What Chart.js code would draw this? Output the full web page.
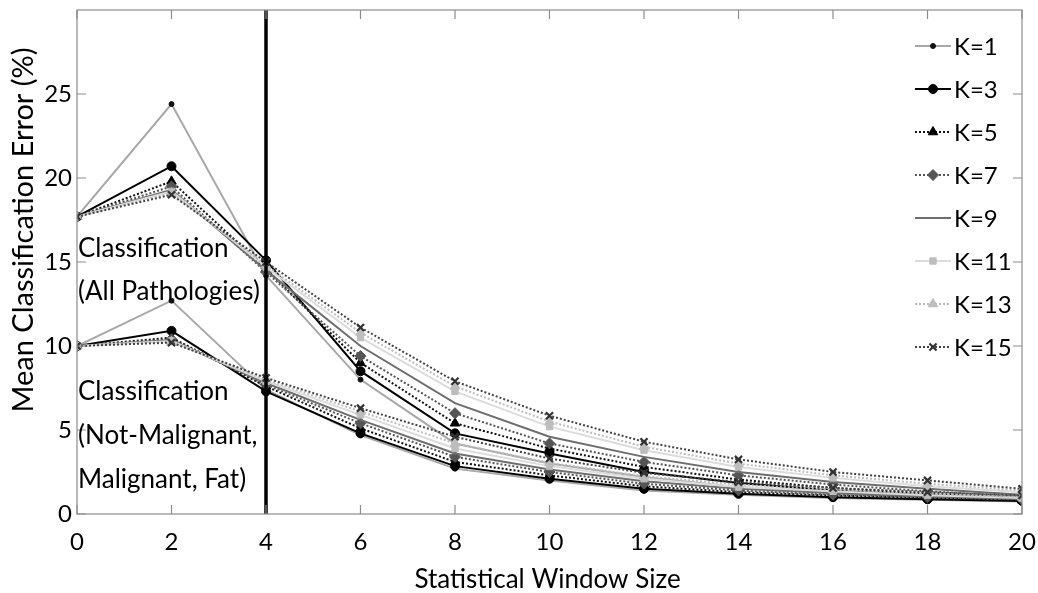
<!DOCTYPE html>
<html>
<head>
<meta charset="utf-8">
<script src="https://cdn.jsdelivr.net/npm/chart.js@4.4.1/dist/chart.umd.min.js"></script>
<style>
html,body{margin:0;padding:0;background:#fff;}
#wrap{width:1038px;height:593px;}
</style>
</head>
<body>
<div id="wrap"><canvas id="c" width="1038" height="593"></canvas></div>
<script>
const windowSizes = [0, 2, 4, 6, 8, 10, 12, 14, 16, 18, 20];
const kLabels = ['K=1', 'K=3', 'K=5', 'K=7', 'K=9', 'K=11', 'K=13', 'K=15'];

// Classification (All Pathologies)
const allK1  = [17.7, 24.4, 14.2, 8.0, 4.2, 3.0, 2.2, 1.6, 1.25, 1.0, 0.85];
const allK3  = [17.7, 20.7, 15.1, 8.5, 4.8, 3.6, 2.5, 1.85, 1.4, 1.1, 0.9];
const allK5  = [17.7, 19.8, 14.6, 9.0, 5.4, 3.9, 2.8, 2.05, 1.55, 1.2, 0.95];
const allK7  = [17.7, 19.5, 14.4, 9.4, 6.0, 4.2, 3.1, 2.3, 1.75, 1.35, 1.05];
const allK9  = [17.7, 19.3, 14.5, 10.0, 6.6, 4.6, 3.4, 2.5, 1.9, 1.5, 1.15];
const allK11 = [17.7, 19.2, 14.7, 10.5, 7.3, 5.2, 3.8, 2.8, 2.15, 1.65, 1.3];
const allK13 = [17.7, 19.1, 14.8, 10.8, 7.6, 5.5, 4.0, 3.0, 2.3, 1.8, 1.4];
const allK15 = [17.7, 19.0, 15.0, 11.1, 7.9, 5.85, 4.3, 3.25, 2.5, 2.0, 1.5];

// Classification (Not-Malignant, Malignant, Fat)
const nmfK1  = [10.0, 12.7, 7.4, 4.7, 2.7, 2.0, 1.4, 1.15, 0.95, 0.85, 0.75];
const nmfK3  = [10.0, 10.9, 7.3, 4.8, 2.85, 2.1, 1.5, 1.2, 1.0, 0.88, 0.78];
const nmfK5  = [10.0, 10.5, 7.6, 5.1, 3.1, 2.3, 1.65, 1.3, 1.1, 0.95, 0.82];
const nmfK7  = [10.0, 10.4, 7.7, 5.4, 3.4, 2.5, 1.8, 1.4, 1.15, 1.0, 0.86];
const nmfK9  = [10.0, 10.35, 7.8, 5.6, 3.6, 2.65, 1.95, 1.5, 1.25, 1.05, 0.9];
const nmfK11 = [10.0, 10.3, 7.9, 5.9, 3.9, 2.85, 2.1, 1.6, 1.35, 1.12, 0.95];
const nmfK13 = [10.0, 10.25, 8.0, 6.1, 4.2, 3.05, 2.25, 1.75, 1.45, 1.2, 1.0];
const nmfK15 = [10.0, 10.2, 8.1, 6.3, 4.6, 3.3, 2.45, 1.9, 1.55, 1.3, 1.1];

const allSeries = [allK1, allK3, allK5, allK7, allK9, allK11, allK13, allK15];
const nmfSeries = [nmfK1, nmfK3, nmfK5, nmfK7, nmfK9, nmfK11, nmfK13, nmfK15];

const yTicks = [0, 5, 10, 15, 20, 25];
const xTicks = windowSizes;
const dividerX = 4;
const xTitle = 'Statistical Window Size';
const yTitle = 'Mean Classification Error (%)';

const annotations = [
  {text: 'Classification', y: 257},
  {text: '(All Pathologies)', y: 300},
  {text: 'Classification', y: 400},
  {text: '(Not-Malignant,', y: 444},
  {text: 'Malignant, Fat)', y: 488}
];

const styles = [
  {line:'#a8a8a8', dash:[], pt:'circle', r:2.5, pc:'#111'},
  {line:'#000000', dash:[], pt:'circle', r:4.5, pc:'#000'},
  {line:'#111111', dash:[2,2], pt:'triangle', r:5.5, pc:'#000'},
  {line:'#555555', dash:[2,2], pt:'rectRot', r:5.5, pc:'#555'},
  {line:'#6e6e6e', dash:[], pt:false, r:0, pc:'#6e6e6e'},
  {line:'#dcdcdc', dash:[], pt:'rect', r:4.5, pc:'#bdbdbd'},
  {line:'#bdbdbd', dash:[2,2], pt:'triangle', r:5.5, pc:'#bdbdbd'},
  {line:'#444444', dash:[2,2], pt:'crossRot', r:5, pc:'#333'}
];

function toPts(arr){ return arr.map((v,i)=>({x: windowSizes[i], y: v})); }

const datasets = [];
[allSeries, nmfSeries].forEach((group, g) => {
  group.forEach((vals, i) => {
    const s = styles[i];
    datasets.push({
      label: kLabels[i],
      data: toPts(vals),
      borderColor: s.line,
      borderWidth: 2,
      borderDash: s.dash,
      pointStyle: s.pt,
      pointRadius: s.r,
      pointBackgroundColor: s.pc,
      pointBorderColor: s.pc,
      pointBorderWidth: s.pt === 'crossRot' ? 2.2 : 1,
      tension: 0,
      fill: false,
      order: 10 - i,
      _legend: g === 0
    });
  });
});
datasets.push({
  label: 'divider',
  data: [{x: dividerX, y: 0}, {x: dividerX, y: 30}],
  borderColor: '#000',
  borderWidth: 3.5,
  pointRadius: 0,
  order: -1,
  _legend: false
});

const FONT = 'Lato, "Open Sans", sans-serif';

const decorPlugin = {
  id: 'decor',
  afterDraw(chart) {
    const ctx = chart.ctx;
    const xs = chart.scales.x, ys = chart.scales.y;
    const a = chart.chartArea;
    ctx.save();
    // box
    ctx.strokeStyle = '#8c8c8c';
    ctx.lineWidth = 1.2;
    ctx.strokeRect(a.left, a.top, a.right - a.left, a.bottom - a.top);
    // inward ticks
    xTicks.forEach(v => {
      const px = xs.getPixelForValue(v);
      ctx.beginPath();
      ctx.moveTo(px, a.bottom); ctx.lineTo(px, a.bottom - 9);
      ctx.moveTo(px, a.top); ctx.lineTo(px, a.top + 9);
      ctx.stroke();
    });
    yTicks.forEach(v => {
      const py = ys.getPixelForValue(v);
      ctx.beginPath();
      ctx.moveTo(a.left, py); ctx.lineTo(a.left + 9, py);
      ctx.moveTo(a.right, py); ctx.lineTo(a.right - 9, py);
      ctx.stroke();
    });
    // axis titles
    ctx.fillStyle = '#000';
    ctx.textAlign = 'center';
    ctx.textBaseline = 'middle';
    ctx.font = '26px ' + FONT;
    ctx.fillText(xTitle, (a.left + a.right) / 2 - 2, 580);
    ctx.save();
    ctx.translate(24, 230);
    ctx.rotate(-Math.PI / 2);
    ctx.font = '29px ' + FONT;
    ctx.fillText(yTitle, 0, 0);
    ctx.restore();
    // annotations
    ctx.font = '26px ' + FONT;
    ctx.textBaseline = 'alphabetic';
    ctx.textAlign = 'left';
    annotations.forEach(t => ctx.fillText(t.text, a.left + 1, t.y));
    // legend
    const lx0 = 915, lx1 = 951, tx = 954, ly0 = 46, step = 43.0;
    let row = 0;
    chart.data.datasets.forEach(ds => {
      if (!ds._legend) return;
      const y = ly0 + row * step;
      ctx.save();
      ctx.strokeStyle = ds.borderColor;
      ctx.lineWidth = ds.borderWidth;
      ctx.setLineDash(ds.borderDash || []);
      ctx.beginPath(); ctx.moveTo(lx0, y); ctx.lineTo(lx1, y); ctx.stroke();
      ctx.setLineDash([]);
      if (ds.pointStyle && Chart.helpers && Chart.helpers.drawPoint) {
        ctx.fillStyle = ds.pointBackgroundColor;
        ctx.strokeStyle = ds.pointBorderColor;
        ctx.lineWidth = ds.pointBorderWidth;
        Chart.helpers.drawPoint(ctx, {pointStyle: ds.pointStyle, radius: ds.pointRadius, rotation: 0, borderWidth: ds.pointBorderWidth}, (lx0 + lx1) / 2, y);
      }
      ctx.restore();
      ctx.fillStyle = '#000';
      ctx.font = '24px ' + FONT;
      ctx.textAlign = 'left';
      ctx.textBaseline = 'middle';
      ctx.fillText(ds.label, tx, y + 1);
      row++;
    });
    ctx.restore();
  }
};

new Chart(document.getElementById('c'), {
  type: 'line',
  data: { datasets },
  plugins: [decorPlugin],
  options: {
    responsive: false,
    animation: false,
    devicePixelRatio: 1,
    layout: { padding: { left: 0, right: 16, top: 10, bottom: 0 } },
    plugins: { legend: { display: false }, tooltip: { enabled: false } },
    scales: {
      x: {
        type: 'linear', min: 0, max: 20,
        afterFit(s) { s.height = 79; s.paddingLeft = 0; s.paddingRight = 0; },
        afterBuildTicks(s) { s.ticks = xTicks.map(v => ({value: v})); },
        grid: { display: false, drawTicks: false },
        border: { display: false },
        ticks: { color: '#000', font: { family: FONT, size: 24 }, padding: 14, maxRotation: 0 },
        title: { display: false }
      },
      y: {
        type: 'linear', min: 0, max: 30,
        afterFit(s) { s.width = 77; s.paddingTop = 0; s.paddingBottom = 0; },
        afterBuildTicks(s) { s.ticks = yTicks.map(v => ({value: v})); },
        grid: { display: false, drawTicks: false },
        border: { display: false },
        ticks: { color: '#000', font: { family: FONT, size: 24 }, padding: 5 },
        title: { display: false }
      }
    }
  }
});
</script>
</body>
</html>
